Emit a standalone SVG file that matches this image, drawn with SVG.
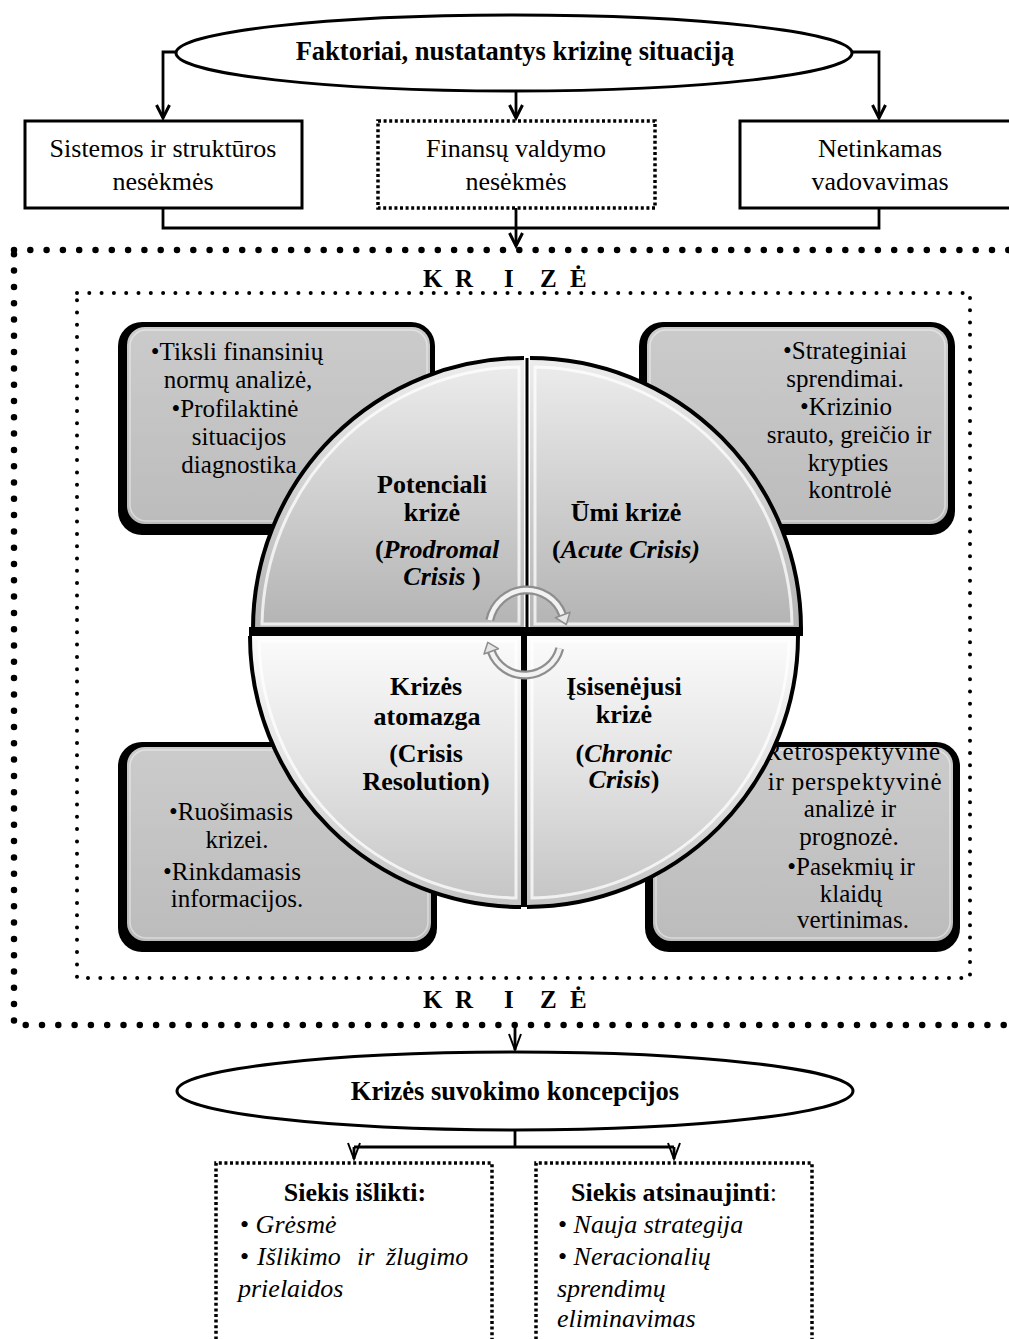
<svg xmlns="http://www.w3.org/2000/svg" width="1009" height="1339" viewBox="0 0 1009 1339">
<defs>
<style>
.t{font-family:"Liberation Serif","Times New Roman",serif;fill:#000}
.b{font-weight:bold}
.i{font-style:italic}
.n{font-style:normal;font-weight:normal}
.s26{font-size:26px}
.s25{font-size:25px}
.c{text-anchor:middle}
.box{fill:#fff;stroke:#000;stroke-width:3}
.dotbox{fill:none;stroke:#000;stroke-width:3.5;stroke-dasharray:3 2.6}
.ln{fill:none;stroke:#000;stroke-width:2.8}
.blk{fill:#000}
.pane{stroke:none}
.bevel{fill:none;stroke:#fff;stroke-width:3;stroke-opacity:0.75}
.edge{fill:none;stroke:#000;stroke-width:4}
.cyc{fill:none;stroke:#8e8e8e;stroke-width:9;stroke-linecap:butt}
.cycin{fill:none;stroke:#f2f2f2;stroke-width:4.5}
.cychead{fill:#e6e6e6;stroke:#8e8e8e;stroke-width:1.5;stroke-linejoin:round}
</style>
<marker id="arrTop" markerUnits="userSpaceOnUse" orient="auto" refX="0" refY="0" markerWidth="20" markerHeight="20" viewBox="-16 -10 20 20" overflow="visible">
<path d="M-13,-6.5 L0,0 L-13,6.5" fill="none" stroke="#000" stroke-width="3" stroke-linejoin="miter"/>
</marker>
<marker id="arrV" markerUnits="userSpaceOnUse" orient="auto" refX="0" refY="0" markerWidth="20" markerHeight="20" viewBox="-18 -10 20 20" overflow="visible">
<path d="M-16,-6 L0,0 L-16,6" fill="none" stroke="#000" stroke-width="2"/>
</marker>
<linearGradient id="gTop" gradientUnits="userSpaceOnUse" x1="0" y1="358" x2="0" y2="630">
<stop offset="0" stop-color="#ededed"/>
<stop offset="1" stop-color="#b3b3b3"/>
</linearGradient>
<linearGradient id="gBot" gradientUnits="userSpaceOnUse" x1="0" y1="636" x2="0" y2="907">
<stop offset="0" stop-color="#fbfbfb"/>
<stop offset="0.5" stop-color="#e2e2e2"/>
<stop offset="1" stop-color="#c4c4c4"/>
</linearGradient>
<linearGradient id="gBox" x1="0" y1="0" x2="0" y2="1">
<stop offset="0" stop-color="#cbcbcb"/>
<stop offset="1" stop-color="#bcbcbc"/>
</linearGradient>
</defs>

<rect x="0" y="0" width="1009" height="1339" fill="#fff"/>

<!-- crisis frames (outer heavy dots, inner fine dots) -->
<g id="frame-outer">
<rect x="14" y="250" width="1012" height="775" fill="none" stroke="#000" stroke-width="6.5" stroke-linecap="round" stroke-dasharray="0 16.3"/>
<text class="t b" font-size="25" x="423 446 455 480 504 520 540 560 570" y="287">K R I Z Ė</text>
<text class="t b" font-size="25" x="423 446 455 480 504 520 540 560 570" y="1008">K R I Z Ė</text>
</g>
<g id="frame-inner">
<rect x="77" y="293" width="893" height="685" fill="none" stroke="#000" stroke-width="4" stroke-linecap="round" stroke-dasharray="0 12.3"/>
</g>

<!-- connectors -->
<g id="connectors">
<path class="ln" d="M177,52 H163 V118" marker-end="url(#arrTop)"/>
<path class="ln" d="M852,52 H879 V118" marker-end="url(#arrTop)"/>
<path class="ln" d="M516,91 V118" marker-end="url(#arrTop)"/>
<path class="ln" d="M163,208 V228 H879 V208"/>
<path class="ln" d="M516,208 V246" marker-end="url(#arrTop)"/>
<path class="ln" d="M515,1025 V1050" stroke-width="2" marker-end="url(#arrV)"/>
<path class="ln" d="M515,1130 V1147 M354,1147 H674" stroke-width="2.5"/>
<path class="ln" d="M354,1147 V1159" stroke-width="2" marker-end="url(#arrV)"/>
<path class="ln" d="M674,1147 V1159" stroke-width="2" marker-end="url(#arrV)"/>
</g>

<!-- factors -->
<g id="factors">
<ellipse cx="514" cy="53" rx="338" ry="38" fill="#fff" stroke="#000" stroke-width="3"/>
<text class="t b c" font-size="26.5" x="515" y="60">Faktoriai, nustatantys krizinę situaciją</text>
</g>
<g id="system-failures">
<rect class="box" x="25" y="121" width="277" height="87"/>
<text class="t s26 c" x="163" y="157">Sistemos ir struktūros</text>
<text class="t s26 c" x="163" y="190">nesėkmės</text>
</g>
<g id="finance-failures">
<rect class="dotbox" x="378" y="121" width="277" height="87"/>
<text class="t s26 c" x="516" y="157">Finansų valdymo</text>
<text class="t s26 c" x="516" y="190">nesėkmės</text>
</g>
<g id="poor-leadership">
<rect class="box" x="740" y="121" width="282" height="87"/>
<text class="t s26 c" x="880" y="157">Netinkamas</text>
<text class="t s26 c" x="880" y="190">vadovavimas</text>
</g>

<!-- action boxes around the cycle -->
<g id="box-prodromal">
<rect class="blk" x="118" y="322" width="317" height="213" rx="24"/>
<rect x="127" y="327" width="303" height="197" rx="18" fill="url(#gBox)"/>
<rect x="130" y="330" width="297" height="191" rx="16" fill="none" stroke="#fff" stroke-opacity="0.45" stroke-width="1.5"/>
<text class="t s25 c" x="237" y="360">•Tiksli finansinių</text>
<text class="t s25 c" x="238" y="388">normų analizė,</text>
<text class="t s25 c" x="235" y="417">•Profilaktinė</text>
<text class="t s25 c" x="239" y="445">situacijos</text>
<text class="t s25 c" x="239" y="473">diagnostika</text>
</g>
<g id="box-acute">
<rect class="blk" x="639" y="322" width="316" height="213" rx="24"/>
<rect x="647" y="327" width="301" height="197" rx="18" fill="url(#gBox)"/>
<rect x="650" y="330" width="295" height="191" rx="16" fill="none" stroke="#fff" stroke-opacity="0.45" stroke-width="1.5"/>
<text class="t s25 c" x="845" y="359">•Strateginiai</text>
<text class="t s25 c" x="845" y="387">sprendimai.</text>
<text class="t s25 c" x="846" y="415">•Krizinio</text>
<text class="t s25 c" x="849" y="443">srauto, greičio ir</text>
<text class="t s25 c" x="848" y="471">krypties</text>
<text class="t s25 c" x="850" y="498">kontrolė</text>
</g>
<g id="box-resolution">
<rect class="blk" x="118" y="742" width="319" height="210" rx="24"/>
<rect x="127" y="747" width="304" height="194" rx="18" fill="url(#gBox)"/>
<rect x="130" y="750" width="298" height="188" rx="16" fill="none" stroke="#fff" stroke-opacity="0.45" stroke-width="1.5"/>
<text class="t s25 c" x="231" y="820">•Ruošimasis</text>
<text class="t s25 c" x="237" y="848">krizei.</text>
<text class="t s25 c" x="232" y="880">•Rinkdamasis</text>
<text class="t s25 c" x="237" y="907">informacijos.</text>
</g>
<g id="box-chronic">
<rect class="blk" x="645" y="742" width="315" height="210" rx="24"/>
<rect x="653" y="747" width="300" height="194" rx="18" fill="url(#gBox)"/>
<rect x="656" y="750" width="294" height="188" rx="16" fill="none" stroke="#fff" stroke-opacity="0.45" stroke-width="1.5"/>
<text class="t s25 c" letter-spacing="0.8" x="853" y="760">Retrospektyvinė</text>
<text class="t s25 c" letter-spacing="0.8" x="855" y="790">ir perspektyvinė</text>
<text class="t s25 c" x="850" y="817">analizė ir</text>
<text class="t s25 c" x="849" y="845">prognozė.</text>
<text class="t s25 c" x="851" y="875">•Pasekmių ir</text>
<text class="t s25 c" x="851" y="902">klaidų</text>
<text class="t s25 c" x="853" y="928">vertinimas.</text>
</g>

<!-- four-phase crisis cycle -->
<g id="phase-prodromal">
<path class="pane" d="M524,629 L253,629 A271,271 0 0 1 524,358 Z" fill="url(#gTop)"/>
<path class="bevel" d="M519,624 L262,624 A262,262 0 0 1 519,367 Z"/>
<path class="edge" d="M253,629 A271,271 0 0 1 524,358"/>
<text class="t b s26 c" x="432" y="493">Potenciali</text>
<text class="t b s26 c" x="432" y="521">krizė</text>
<text class="t b s26 c" x="437" y="558">(<tspan class="i">Prodromal</tspan></text>
<text class="t b s26 c" x="442" y="585"><tspan class="i">Crisis</tspan> )</text>
</g>
<g id="phase-acute">
<path class="pane" d="M530,629 L530,358 A271,271 0 0 1 801,629 Z" fill="url(#gTop)"/>
<path class="bevel" d="M535,624 L535,367 A262,262 0 0 1 792,624 Z"/>
<path class="edge" d="M530,358 A271,271 0 0 1 801,629"/>
<text class="t b s26 c" x="626" y="521">Ūmi krizė</text>
<text class="t b s26 c" x="626" y="558">(<tspan class="i">Acute Crisis)</tspan></text>
</g>
<g id="phase-resolution">
<path class="pane" d="M521,636 L521,907 A271,271 0 0 1 250,636 Z" fill="url(#gBot)"/>
<path class="bevel" d="M516,641 L516,898 A262,262 0 0 1 259,641 Z"/>
<path class="edge" d="M521,907 A271,271 0 0 1 250,636"/>
<text class="t b s26 c" x="426" y="695">Krizės</text>
<text class="t b s26 c" x="427" y="725">atomazga</text>
<text class="t b s26 c" x="426" y="762">(Crisis</text>
<text class="t b s26 c" x="426" y="790">Resolution)</text>
</g>
<g id="phase-chronic">
<path class="pane" d="M527,636 L798,636 A271,271 0 0 1 527,907 Z" fill="url(#gBot)"/>
<path class="bevel" d="M532,641 L789,641 A262,262 0 0 1 532,898 Z"/>
<path class="edge" d="M798,636 A271,271 0 0 1 527,907"/>
<text class="t b s26 c" x="624" y="695">Įsisenėjusi</text>
<text class="t b s26 c" x="624" y="723">krizė</text>
<text class="t b s26 c" x="624" y="762">(<tspan class="i">Chronic</tspan></text>
<text class="t b s26 c" x="624" y="788"><tspan class="i">Crisis</tspan>)</text>
</g>
<g id="cycle-dividers">
<rect x="249" y="627" width="554" height="9" fill="#000"/>
<rect x="525.5" y="358" width="3" height="270" fill="#000"/>
<rect x="521" y="636" width="6" height="271" fill="#000"/>
</g>
<g id="cycle-arrows">
<path class="cyc" d="M489.8,620.1 A38,38 0 0 1 562.7,615"/>
<path class="cycin" d="M489.8,620.1 A38,38 0 0 1 562.7,615"/>
<polygon class="cychead" points="570,612.3 555.4,617.7 566.3,624.5"/>
<path class="cyc" d="M559.8,648.3 A36,36 0 0 1 491.2,651.3"/>
<path class="cycin" d="M559.8,648.3 A36,36 0 0 1 491.2,651.3"/>
<polygon class="cychead" points="498.4,648.7 484,654 487.8,642.3"/>
</g>

<!-- perception of crisis -->
<g id="perception">
<ellipse cx="515" cy="1091" rx="338" ry="39" fill="#fff" stroke="#000" stroke-width="3"/>
<text class="t b c" font-size="26.5" x="515" y="1100">Krizės suvokimo koncepcijos</text>
</g>
<g id="survive">
<path class="dotbox" d="M216,1345 V1163 H492 V1345"/>
<text class="t b s26 c" x="355" y="1201">Siekis išlikti:</text>
<text class="t s26" x="240" y="1233">• <tspan class="i">Grėsmė</tspan></text>
<text class="t s26" x="240" y="1265">• <tspan class="i" x="257">Išlikimo </tspan><tspan class="i" x="357">ir </tspan><tspan class="i" x="386">žlugimo</tspan></text>
<text class="t s26 i" x="238" y="1297">prielaidos</text>
</g>
<g id="renew">
<path class="dotbox" d="M536,1345 V1163 H812 V1345"/>
<text class="t b s26 c" x="674" y="1201">Siekis atsinaujinti<tspan class="n">:</tspan></text>
<text class="t s26" x="558" y="1233">• <tspan class="i">Nauja strategija</tspan></text>
<text class="t s26" x="558" y="1265">• <tspan class="i">Neracionalių</tspan></text>
<text class="t s26 i" x="557" y="1297">sprendimų</text>
<text class="t s26 i" x="557" y="1327">eliminavimas</text>
</g>
</svg>
